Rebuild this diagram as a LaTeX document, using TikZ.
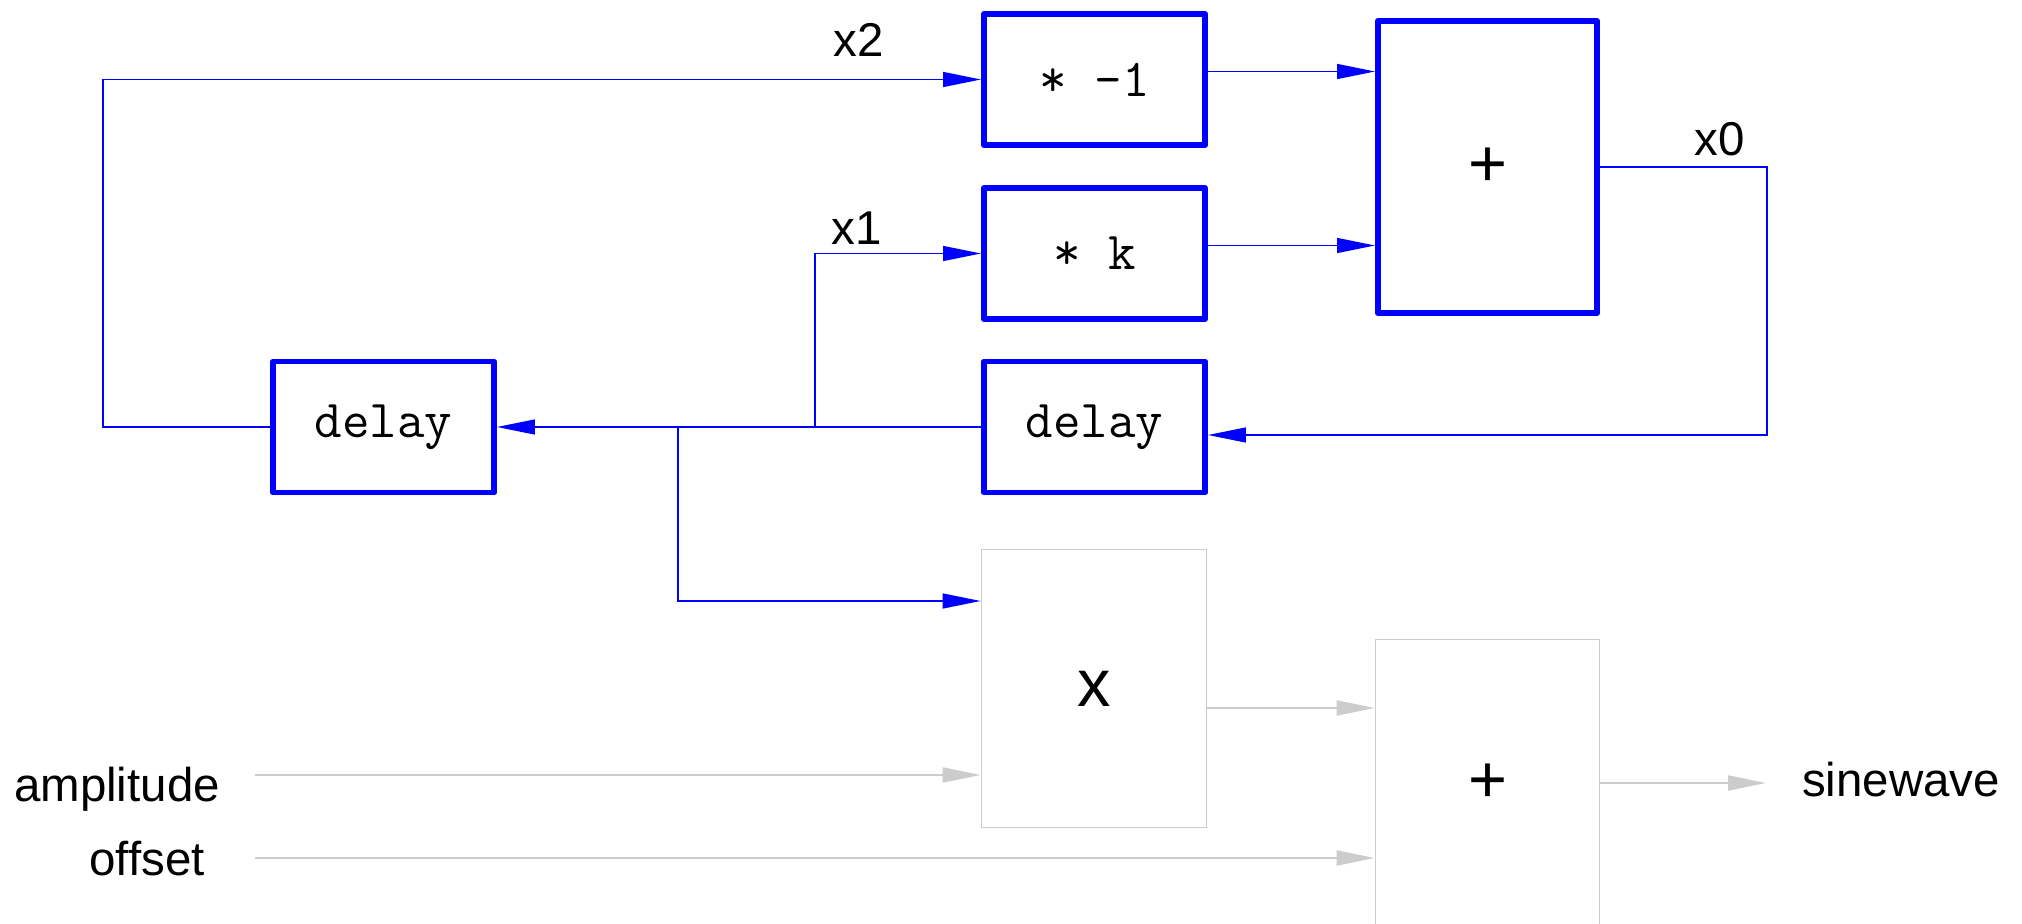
\documentclass[tikz,border=0pt]{standalone}
\usepackage{fontspec}
\setmainfont{Liberation Sans}
\usetikzlibrary{arrows.meta}
\definecolor{opgray}{RGB}{204,204,204}

\begin{document}
\begin{tikzpicture}[
  blk/.style={draw=blue, line width=1.7pt, line join=round,
    minimum width=2.21cm, minimum height=1.31cm, inner sep=0pt,
    font=\ttfamily\fontsize{15.2}{18}\selectfont},
  op/.style={draw=opgray, line width=.5pt, inner sep=0pt,
    font=\fontsize{19}{22}\selectfont},
  conn/.style={blue, line width=.4pt, -{Triangle[length=3.8mm,width=1.5mm]}},
  gconn/.style={opgray, line width=.6pt, -{Triangle[length=3.8mm,width=1.5mm]}},
  lbl/.style={font=\fontsize{13.5}{16}\selectfont, anchor=base}
]

\useasboundingbox (0,0) rectangle (20.22,9.23);

\node[blk] (neg)  at (10.945,8.435) {* -1};
\node[blk] (mulk) at (10.945,6.695) {* k};
\node[blk, minimum height=2.92cm, minimum width=2.19cm,
  font=\fontsize{19}{22}\selectfont] (sum) at (14.875,7.56) {+};
\node[blk] (dlyA) at (3.835,4.96) {delay};
\node[blk] (dlyB) at (10.945,4.96) {delay};

\node[op, minimum width=2.25cm, minimum height=2.78cm] (mul) at (10.94,2.345) {x};
\node[op, minimum width=2.24cm, minimum height=2.87cm] (add) at (14.875,1.40) {+};

\node[lbl] (x2)   at (8.585,8.66) {x2};
\node[lbl] (x1)   at (8.565,6.78) {x1};
\node[lbl] (x0)   at (17.20,7.67) {x0};
\node[lbl] (ampl) at (1.17,1.22)  {amplitude};
\node[lbl] (offs) at (1.47,0.48)  {offset};
\node[lbl] (sine) at (19.01,1.26) {sinewave};

\coordinate (xtwoL)  at (1.03,4.96);
\coordinate (brK)    at (8.15,4.96);
\coordinate (brMul)  at (6.78,4.96);
\coordinate (fbR)    at (17.67,0);
\coordinate (ampIn)  at (2.55,1.48);
\coordinate (offIn)  at (2.55,0.65);
\coordinate (sineOut) at (17.66,1.40);
\coordinate (negOut) at ([yshift=.08cm]neg.east);
\coordinate (kOut)   at ([yshift=.08cm]mulk.east);
\coordinate (dlyIn)  at ([yshift=-.08cm]dlyB.east);
\coordinate (mulIn)  at ([yshift=.875cm]mul.west);
\coordinate (mulOut) at ([yshift=-.195cm]mul.east);

\draw[conn] (dlyA.west) -- (xtwoL) |- (neg.west);
\draw[conn] (dlyB.west) -- (dlyA.east);
\draw[conn] (brK) |- (mulk.west);
\draw[conn] (brMul) |- (mulIn);
\draw[conn] (negOut) -- (negOut -| sum.west);
\draw[conn] (kOut) -- (kOut -| sum.west);
\draw[conn] (sum.east) -| (fbR |- dlyIn) -- (dlyIn);

\draw[gconn] (ampIn) -- (ampIn -| mul.west);
\draw[gconn] (offIn) -- (offIn -| add.west);
\draw[gconn] (mulOut) -- (mulOut -| add.west);
\draw[gconn] (add.east) -- (sineOut);

\end{tikzpicture}
\end{document}
